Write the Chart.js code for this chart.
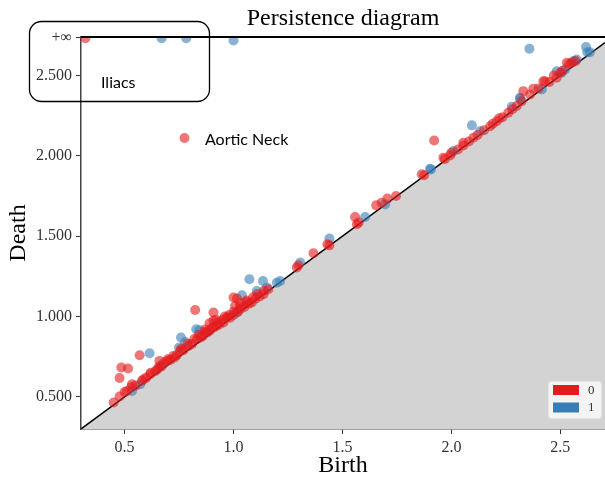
<!DOCTYPE html>
<html>
<head>
<meta charset="utf-8">
<script src="https://cdn.jsdelivr.net/npm/chart.js@4/dist/chart.umd.min.js"></script>
<style>
  html, body { margin: 0; padding: 0; background: #fff; overflow: hidden; }
</style>
</head>
<body>
<canvas id="pd" width="605" height="483"></canvas>
<script>
// value used for points that never die (drawn on the +inf line)
const INF = 2.732;

// axis ticks
const xTicks = [0.5, 1.0, 1.5, 2.0, 2.5];
const yTicks = [0.5, 1.0, 1.5, 2.0, 2.5, 2.736];
const yTickLabels = ['0.500', '1.000', '1.500', '2.000', '2.500', '+\u221e'];

// dimension 0 : [birth, death]
const dim0 = [
  [0.32, INF],
  [0.569, 0.759], [0.485, 0.683], [0.516, 0.677], [0.477, 0.618], [0.66, 0.724],
  [0.824, 1.041], [0.908, 1.025], [0.89, 0.958], [1.0, 1.118], [1.016, 1.112],
  [1.007, 1.066], [0.908, 0.975],
  [0.45, 0.465], [0.477, 0.502], [0.5, 0.53], [0.511, 0.537], [0.53, 0.56],
  [0.534, 0.579], [0.55, 0.57], [0.58, 0.6], [0.587, 0.61], [0.6, 0.62],
  [0.618, 0.641], [0.62, 0.65], [0.64, 0.66], [0.65, 0.67], [0.656, 0.683],
  [0.67, 0.69], [0.68, 0.71], [0.695, 0.724], [0.7, 0.735], [0.71, 0.73],
  [0.725, 0.755], [0.73, 0.745], [0.74, 0.76], [0.755, 0.786], [0.76, 0.8],
  [0.77, 0.79], [0.79, 0.83], [0.794, 0.817], [0.81, 0.83], [0.82, 0.86],
  [0.832, 0.859], [0.84, 0.885], [0.85, 0.87], [0.86, 0.88], [0.87, 0.905],
  [0.87, 0.92], [0.878, 0.9], [0.89, 0.91], [0.9, 0.93], [0.908, 0.932],
  [0.92, 0.94], [0.92, 0.98], [0.93, 0.965], [0.935, 0.95], [0.95, 0.98],
  [0.954, 0.963], [0.96, 1.0], [0.97, 0.994], [0.98, 1.01], [0.985, 0.993],
  [1.0, 1.01], [1.0, 1.03], [1.02, 1.03], [1.03, 1.06], [1.031, 1.045],
  [1.03, 1.085], [1.05, 1.06], [1.06, 1.09], [1.06, 1.1], [1.07, 1.08],
  [1.084, 1.087], [1.09, 1.12], [1.1, 1.11], [1.11, 1.14], [1.12, 1.125],
  [1.138, 1.139], [1.14, 1.16], [1.16, 1.17],
  [1.298, 1.319], [1.29, 1.305], [1.367, 1.394], [1.431, 1.45], [1.44, 1.443],
  [1.558, 1.62], [1.566, 1.574], [1.575, 1.585], [1.655, 1.692], [1.68, 1.709],
  [1.706, 1.734], [1.746, 1.75], [1.864, 1.885], [1.875, 1.88],
  [1.921, 2.096], [1.963, 1.989], [1.97, 1.98], [1.994, 2.003], [2.0, 2.02],
  [2.03, 2.04], [2.055, 2.065], [2.055, 2.082], [2.08, 2.09], [2.101, 2.113],
  [2.12, 2.13], [2.15, 2.16], [2.178, 2.185], [2.19, 2.2], [2.208, 2.216],
  [2.22, 2.235], [2.235, 2.24], [2.261, 2.269], [2.28, 2.29], [2.3, 2.31],
  [2.323, 2.341], [2.361, 2.382], [2.33, 2.403], [2.376, 2.418], [2.4, 2.42],
  [2.422, 2.465], [2.43, 2.465], [2.45, 2.46], [2.47, 2.5], [2.483, 2.486],
  [2.499, 2.517], [2.51, 2.53], [2.53, 2.58], [2.54, 2.57], [2.552, 2.58],
  [2.57, 2.59]
];

// dimension 1 : [birth, death]
const dim1 = [
  [0.67, INF], [0.783, INF], [1.0, 2.718],
  [2.358, 2.667], [2.618, 2.678], [2.624, 2.645], [2.636, 2.645], [2.094, 2.19],
  [0.534, 0.537], [0.572, 0.579], [0.615, 0.772], [0.664, 0.693],
  [0.75, 0.807], [0.759, 0.869], [0.778, 0.842], [0.829, 0.921], [0.843, 0.915],
  [1.016, 1.025], [1.039, 1.132], [1.073, 1.232], [1.107, 1.159], [1.135, 1.221],
  [1.153, 1.18], [1.199, 1.211], [1.214, 1.221], [1.306, 1.336], [1.44, 1.485],
  [1.604, 1.62], [1.696, 1.698], [1.902, 1.92], [1.906, 1.916], [2.009, 2.03],
  [2.132, 2.154], [2.277, 2.306], [2.315, 2.356], [2.315, 2.362], [2.415, 2.414],
  [2.483, 2.527], [2.506, 2.517], [2.522, 2.538], [2.56, 2.59], [2.575, 2.6]
];

// diagonal birth = death
const diagonal = [[0.3, 0.3], [2.705, 2.705]];

const RED = '#e41a1c';
const BLUE = '#377eb8';
const RED_A = 'rgba(228,26,28,0.6)';
const BLUE_A = 'rgba(55,126,184,0.6)';

function toXY(list) {
  return list.map(p => ({ x: p[0], y: p[1] }));
}

function roundBox(ctx, x, y, w, h, r) {
  ctx.beginPath();
  ctx.moveTo(x + r, y);
  ctx.arcTo(x + w, y, x + w, y + h, r);
  ctx.arcTo(x + w, y + h, x, y + h, r);
  ctx.arcTo(x, y + h, x, y, r);
  ctx.arcTo(x, y, x + w, y, r);
  ctx.closePath();
}

// top line, annotations and legend
const overlay = {
  id: 'overlay',
  afterDraw(chart) {
    const ctx = chart.ctx;
    const a = chart.chartArea;
    ctx.save();
    // top spine / +inf line
    ctx.strokeStyle = '#000';
    ctx.lineWidth = 2;
    ctx.beginPath();
    ctx.moveTo(a.left, a.top);
    ctx.lineTo(a.right, a.top);
    ctx.stroke();

    // Iliacs box
    ctx.lineWidth = 1.3;
    roundBox(ctx, 29.5, 21.5, 180, 80, 12);
    ctx.stroke();
    ctx.fillStyle = '#000';
    ctx.font = '16px Lato';
    ctx.textBaseline = 'alphabetic';
    ctx.textAlign = 'left';
    ctx.fillText('Iliacs', 101, 88);

    // Aortic Neck marker
    ctx.fillStyle = RED_A;
    ctx.beginPath();
    ctx.arc(184.5, 138, 5, 0, Math.PI * 2);
    ctx.fill();
    ctx.fillStyle = '#000';
    ctx.fillText('Aortic Neck', 205, 145);

    // legend
    roundBox(ctx, 548.5, 381.5, 53, 37, 3);
    ctx.fillStyle = 'rgba(255,255,255,0.75)';
    ctx.fill();
    ctx.strokeStyle = '#e6e6e6';
    ctx.lineWidth = 1;
    ctx.stroke();
    ctx.fillStyle = RED;
    ctx.fillRect(553, 385, 26, 10);
    ctx.fillStyle = BLUE;
    ctx.fillRect(553, 402.5, 26, 10);
    ctx.fillStyle = '#333';
    ctx.font = '13px "Liberation Serif"';
    ctx.textBaseline = 'middle';
    ctx.fillText('0', 588, 390.5);
    ctx.fillText('1', 588, 408);
    ctx.restore();
  }
};

const tickFont = { family: '"Liberation Serif", serif', size: 16 };
const titleFont = { family: '"Liberation Serif", serif', size: 24 };

new Chart(document.getElementById('pd'), {
  type: 'scatter',
  data: {
    datasets: [
      { label: '0', data: toXY(dim0), backgroundColor: RED_A, borderWidth: 0, pointRadius: 5, clip: 0 },
      { label: '1', data: toXY(dim1), backgroundColor: BLUE_A, borderWidth: 0, pointRadius: 5, clip: 0 },
      {
        label: 'diag',
        data: toXY(diagonal),
        showLine: true,
        fill: 'start',
        backgroundColor: '#d3d3d3',
        borderColor: '#000',
        borderWidth: 1.5,
        pointRadius: 0
      }
    ]
  },
  options: {
    responsive: false,
    animation: false,
    layout: { padding: 0, autoPadding: false },
    plugins: {
      legend: { display: false },
      tooltip: { enabled: false },
      title: {
        display: true,
        text: 'Persistence diagram',
        fullSize: false,
        color: '#000',
        font: { family: '"Liberation Serif", serif', size: 24, weight: 'normal' },
        padding: { top: 4, bottom: 4.2 }
      }
    },
    scales: {
      x: {
        type: 'linear',
        min: 0.3,
        max: 2.705,
        afterBuildTicks: s => { s.ticks = xTicks.map(v => ({ value: v })); },
        afterFit: s => { s.height = 54; },
        ticks: { font: tickFont, color: '#333', padding: 4, maxRotation: 0, callback: v => v.toFixed(1) },
        grid: { drawOnChartArea: false, tickLength: 5, tickColor: '#333' },
        border: { color: '#444', width: 1.5 },
        title: { display: true, text: 'Birth', color: '#000', font: titleFont, padding: { top: 0, bottom: 3 } }
      },
      y: {
        type: 'linear',
        min: 0.3,
        max: 2.74,
        afterBuildTicks: s => { s.ticks = yTicks.map(v => ({ value: v })); },
        afterFit: s => { s.width = 81; },
        ticks: { font: tickFont, color: '#333', padding: 4, callback: (v, i) => yTickLabels[i] },
        grid: { drawOnChartArea: false, tickLength: 5, tickColor: '#333' },
        border: { color: '#444', width: 1.5 },
        title: { display: true, text: 'Death', color: '#000', font: titleFont, padding: { top: 4, bottom: 4 } }
      }
    }
  },
  plugins: [overlay]
});
</script>
</body>
</html>
